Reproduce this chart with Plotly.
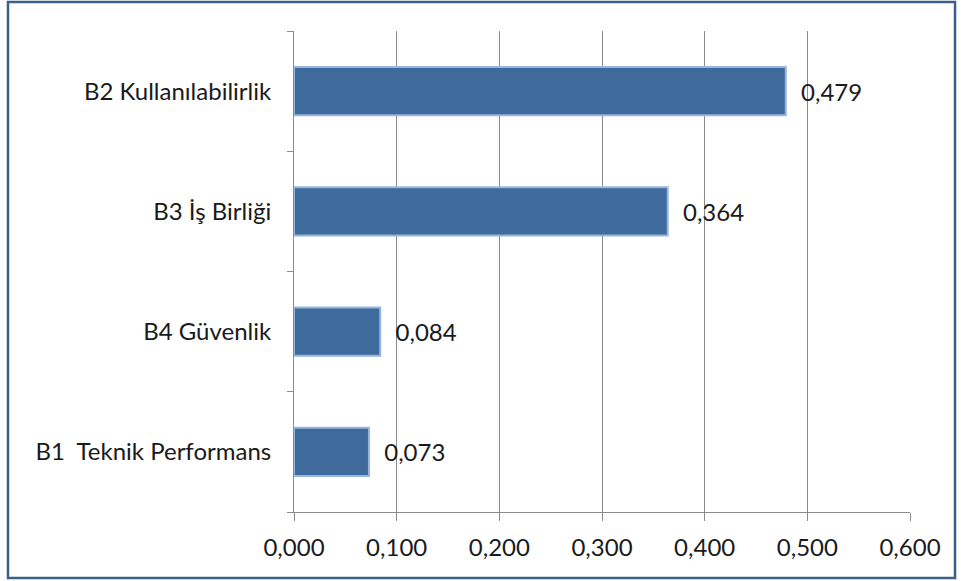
import plotly.graph_objects as go

categories = ["B1 \u00a0Teknik Performans", "B4 Güvenlik", "B3 İş Birliği", "B2 Kullanılabilirlik"]
values = [0.073, 0.084, 0.364, 0.479]
x_ticks = [0.0, 0.1, 0.2, 0.3, 0.4, 0.5, 0.6]

FONT = "Lato, 'Open Sans', sans-serif"
FS = 24

fig = go.Figure(go.Bar(
    y=categories,
    x=values,
    orientation="h",
    width=0.4,
    marker=dict(color="#3E6A9C", line=dict(color="#95B6DE", width=2)),
    text=values,
    texttemplate="\u00a0\u00a0%{x:.3f}",
    textposition="outside",
    textfont=dict(family=FONT, size=FS, color="#1a1a1a"),
    cliponaxis=False,
))

fig.update_layout(
    width=964, height=581,
    margin=dict(l=294, r=54, t=31, b=69),
    paper_bgcolor="white", plot_bgcolor="white",
    separators=",.",
    showlegend=False,
    font=dict(family=FONT, size=FS, color="#1a1a1a"),
    uniformtext=dict(minsize=FS, mode="show"),
    shapes=[dict(type="rect", xref="paper", yref="paper",
                 x0=-0.4643, x1=1.0731, y0=-0.1372, y1=1.0603,
                 line=dict(color="#3A5F8B", width=2.5), layer="below")],
)
fig.update_xaxes(
    range=[0, 0.6], tickvals=x_ticks, tickformat=".3f",
    showgrid=True, gridcolor="#8C8C8C", gridwidth=1,
    showline=True, linecolor="#8C8C8C", ticks="outside", ticklen=8, tickcolor="#8C8C8C",
    zeroline=False, tickfont=dict(size=FS), ticklabelstandoff=6,
)
fig.update_yaxes(
    showgrid=False, showline=True, linecolor="#8C8C8C",
    ticks="outside", tickson="boundaries", ticklen=6, tickcolor="#8C8C8C",
    tickfont=dict(size=FS), ticklabelstandoff=17,
)

fig.write_html("out.html")
